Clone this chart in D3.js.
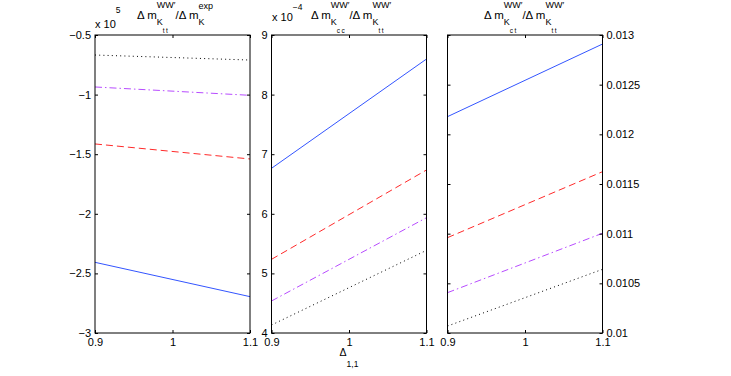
<!DOCTYPE html>
<html>
<head>
<meta charset="utf-8">
<script src="https://cdn.jsdelivr.net/npm/d3@7"></script>
<style>
html,body{margin:0;padding:0;background:#fff;}
svg{display:block;font-family:"Liberation Sans",Arial,Helvetica,sans-serif;}
</style>
</head>
<body>
<svg id="chart" width="731" height="376"></svg>
<script>
// ---- data ----
const xValues = [0.9, 1.1];
const xTicks = [0.9, 1, 1.1];
const xTickLabels = ["0.9", "1", "1.1"];

// panel 1 (values in units of 1e5)
const p1Blue = [-2.407, -2.695];
const p1Red = [-1.414, -1.540];
const p1Purple = [-0.936, -1.006];
const p1Black = [-0.668, -0.710];
const p1Ticks = [-3, -2.5, -2, -1.5, -1, -0.5];
const p1TickLabels = ["\u22123", "\u22122.5", "\u22122", "\u22121.5", "\u22121", "\u22120.5"];

// panel 2 (values in units of 1e-4)
const p2Blue = [6.763, 8.597];
const p2Red = [5.236, 6.735];
const p2Purple = [4.537, 5.935];
const p2Black = [4.134, 5.387];
const p2Ticks = [4, 5, 6, 7, 8, 9];
const p2TickLabels = ["4", "5", "6", "7", "8", "9"];

// panel 3
const p3Blue = [0.012178, 0.012909];
const p3Red = [0.010960, 0.011624];
const p3Purple = [0.010406, 0.011004];
const p3Black = [0.010070, 0.010641];
const p3Ticks = [0.01, 0.0105, 0.011, 0.0115, 0.012, 0.0125, 0.013];
const p3TickLabels = ["0.01", "0.0105", "0.011", "0.0115", "0.012", "0.0125", "0.013"];

const seriesStyles = [
  {color: "#3355ff", dash: null},
  {color: "#ff2a2a", dash: "7,4"},
  {color: "#b84cff", dash: "7,3,1.5,3"},
  {color: "#000000", dash: "1,3.2"}
];

const svg = d3.select("#chart");
svg.append("rect").attr("width", 731).attr("height", 376).attr("fill", "#fff");

const yTop = 35, yBottom = 333;
const panels = [
  {left: 95, right: 250, domain: [-3, -0.5], ticks: p1Ticks, labels: p1TickLabels,
   series: [p1Blue, p1Red, p1Purple, p1Black], labelSide: "left", titleX: 175},
  {left: 271.5, right: 426.5, domain: [4, 9], ticks: p2Ticks, labels: p2TickLabels,
   series: [p2Blue, p2Red, p2Purple, p2Black], labelSide: "left", titleX: 351},
  {left: 447.5, right: 602.5, domain: [0.01, 0.013], ticks: p3Ticks, labels: p3TickLabels,
   series: [p3Blue, p3Red, p3Purple, p3Black], labelSide: "right", titleX: 524}
];

const FS = 11;

// ---- math text helper ----
function lay(g, items, x, y, fs, ls) {
  for (const it of items) {
    if (typeof it === "string") {
      const t = g.append("text").attr("x", x).attr("y", y).attr("font-size", fs).attr("fill", "#000").text(it);
      if (ls) t.attr("letter-spacing", ls);
      x += t.node().getComputedTextLength();
    } else {
      let e1 = x, e2 = x;
      if (it.sup) e1 = lay(g, it.sup, x, y + it.supDy, it.sfs, it.ls);
      if (it.sub) e2 = lay(g, it.sub, x, y + it.subDy, it.sfs, it.ls);
      x = Math.max(e1, e2);
    }
  }
  return x;
}
function mathText(parent, cx, y, items, fs, anchor) {
  const g = parent.append("g");
  const w = lay(g, items, 0, 0, fs);
  let x0 = cx;
  if (anchor === "middle") x0 = cx - w / 2;
  else if (anchor === "end") x0 = cx - w;
  g.attr("transform", `translate(${x0},${y})`);
  return g;
}
const subTT = (s) => ({sub: [s], subDy: 8, sfs: 6.5, ls: 1.5});
const kSub = (s) => ({sup: ["WW\u2032"], sub: ["K", subTT(s)], supDy: -11.5, subDy: 6, sfs: 9});

panels.forEach((p, i) => {
  const x = d3.scaleLinear().domain([0.9, 1.1]).range([p.left, p.right]);
  const y = d3.scaleLinear().domain(p.domain).range([yBottom, yTop]);
  const g = svg.append("g");

  // series
  const line = d3.line().x((d, j) => x(xValues[j])).y(d => y(d));
  p.series.forEach((s, k) => {
    const st = seriesStyles[k];
    g.append("path").datum(s).attr("d", line)
      .attr("fill", "none").attr("stroke", st.color).attr("stroke-width", 1)
      .attr("stroke-dasharray", st.dash);
  });

  // axes
  const fmtX = (d) => xTickLabels[xTicks.indexOf(d)];
  const fmtY = (d) => p.labels[p.ticks.indexOf(d)];
  const bx = d3.axisBottom(x).tickValues(xTicks).tickFormat(fmtX).tickSizeInner(-3).tickSizeOuter(0).tickPadding(5);
  const tx = d3.axisTop(x).tickValues(xTicks).tickFormat("").tickSizeInner(-3).tickSizeOuter(0);
  const ly = d3.axisLeft(y).tickValues(p.ticks).tickSizeInner(-3).tickSizeOuter(0).tickPadding(4)
    .tickFormat(p.labelSide === "left" ? fmtY : "");
  const ry = d3.axisRight(y).tickValues(p.ticks).tickSizeInner(-3).tickSizeOuter(0).tickPadding(4)
    .tickFormat(p.labelSide === "right" ? fmtY : "");

  const axes = [
    g.append("g").attr("transform", `translate(0,${yBottom})`).call(bx),
    g.append("g").attr("transform", `translate(0,${yTop})`).call(tx),
    g.append("g").attr("transform", `translate(${p.left},0)`).call(ly),
    g.append("g").attr("transform", `translate(${p.right},0)`).call(ry)
  ];
  axes.forEach(a => {
    a.select(".domain").remove();
    a.selectAll("line").attr("stroke", "#000");
    a.selectAll("text").attr("font-size", FS).attr("fill", "#000")
      .attr("font-family", "\"Liberation Sans\",Arial,Helvetica,sans-serif");
  });

  // frame
  g.append("rect").attr("x", p.left).attr("y", yTop)
    .attr("width", p.right - p.left).attr("height", yBottom - yTop)
    .attr("fill", "none").attr("stroke", "#000").attr("stroke-width", 1);

  // titles
  let items;
  if (i === 0) {
    items = ["\u0394 m", kSub("tt"), "/\u0394 m", {sup: ["exp"], sub: ["K"], supDy: -10.5, subDy: 5.5, sfs: 9}];
  } else if (i === 1) {
    items = ["\u0394 m", kSub("cc"), "/\u0394 m", kSub("tt")];
  } else {
    items = ["\u0394 m", kSub("ct"), "/\u0394 m", kSub("tt")];
  }
  mathText(svg, p.titleX, 19, items, 11.5, "middle");
});

// exponent multipliers
mathText(svg, 95, 28, ["x 10", {sup: ["5"], supDy: -15, sfs: 8.5}], FS, "start");
mathText(svg, 272, 21, ["x 10", {sup: ["\u22124"], supDy: -11, sfs: 8.5}], FS, "start");

// x label
mathText(svg, 349, 356, ["\u0394", {sub: ["1,1"], subDy: 11, sfs: 8.5}], 10.5, "middle");
</script>
</body>
</html>
